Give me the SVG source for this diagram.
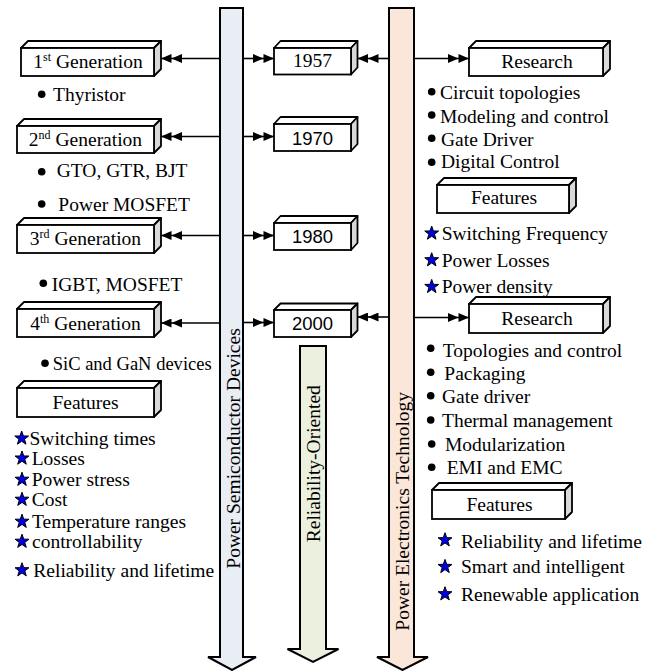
<svg xmlns="http://www.w3.org/2000/svg" width="659" height="671" viewBox="0 0 659 671">
<style>
.t{font-family:"Liberation Serif","Times New Roman",serif;font-size:19.5px;fill:#000}
.s{font-family:"Liberation Sans",Arial,sans-serif;font-size:18.5px;fill:#000}
.front{fill:#fff;stroke:#000;stroke-width:1.8}
.top{fill:#fff;stroke:#000;stroke-width:1.8;stroke-linejoin:round}
.side{fill:#d9d9d9;stroke:#000;stroke-width:1.8;stroke-linejoin:round}
.con{stroke:#000;stroke-width:1.6;fill:none;marker-end:url(#dbl)}
.shaft{stroke:#000;stroke-width:2;stroke-linejoin:miter}
.bul{fill:#000}
.star{fill:#0000e6;stroke:#000;stroke-width:1}
</style>
<defs>
<marker id="dbl" markerUnits="userSpaceOnUse" viewBox="0 0 21 9" markerWidth="21" markerHeight="9" refX="21" refY="4.5" orient="auto">
<path d="M0,0 L10.5,4.5 L0,9 Z M10.5,0 L21,4.5 L10.5,9 Z" fill="#000"/>
</marker>
<path id="star" class="star" d="M0,-7.3 L1.72,-2.37 L6.94,-2.26 L2.78,0.9 L4.29,5.9 L0,2.92 L-4.29,5.9 L-2.78,0.9 L-6.94,-2.26 L-1.72,-2.37 Z"/>
</defs>
<rect width="659" height="671" fill="#fff"/>

<g id="shaft-devices">
<path class="shaft" fill="#e9edf4" d="M220,8 H243 V657 H256 L232,670 L208,657 H220 Z"/>
<text class="t" transform="translate(240,448.5) rotate(-90)" text-anchor="middle">Power Semiconductor Devices</text>
</g>
<g id="shaft-reliability">
<path class="shaft" fill="#ebf1de" d="M300,346 H326 V649 H338.5 L313,662 L287.5,649 H300 Z"/>
<text class="t" transform="translate(320,463.7) rotate(-90)" text-anchor="middle">Reliability-Oriented</text>
</g>
<g id="shaft-technology">
<path class="shaft" fill="#fbe7da" d="M389,8 H414 V657 H428 L402.5,670 L377,657 H389 Z"/>
<text class="t" transform="translate(409,511.3) rotate(-90)" text-anchor="middle">Power Electronics Technology</text>
</g>

<g id="connectors">
<line class="con" x1="220" y1="58.5" x2="161" y2="58.5"/>
<line class="con" x1="243" y1="58.5" x2="274" y2="58.5"/>
<line class="con" x1="389" y1="58.5" x2="357.5" y2="58.5"/>
<line class="con" x1="414" y1="58.5" x2="469" y2="58.5"/>
<line class="con" x1="220" y1="136.5" x2="161" y2="136.5"/>
<line class="con" x1="243" y1="136.5" x2="274" y2="136.5"/>
<line class="con" x1="220" y1="235.5" x2="161" y2="235.5"/>
<line class="con" x1="243" y1="235.5" x2="274" y2="235.5"/>
<line class="con" x1="220" y1="323" x2="161" y2="323"/>
<line class="con" x1="243" y1="322.5" x2="274" y2="322.5"/>
<line class="con" x1="389" y1="317" x2="357.5" y2="317"/>
<line class="con" x1="414" y1="317.5" x2="469" y2="317.5"/>
</g>

<g id="gen1">
<polygon class="top" points="21,48 28,41 161,41 154,48"/>
<polygon class="side" points="154,48 161,41 161,69 154,76"/>
<rect class="front" x="21" y="48" width="133" height="28"/>
<text class="t" x="88" y="68" text-anchor="middle">1<tspan font-size="12" dy="-7">st</tspan><tspan dy="7"> Generation</tspan></text>
</g>
<g id="gen2">
<polygon class="top" points="17,126 24,119 161,119 154,126"/>
<polygon class="side" points="154,126 161,119 161,146 154,153"/>
<rect class="front" x="17" y="126" width="137" height="27"/>
<text class="t" x="85.5" y="146" text-anchor="middle">2<tspan font-size="12" dy="-7">nd</tspan><tspan dy="7"> Generation</tspan></text>
</g>
<g id="gen3">
<polygon class="top" points="17,225 24,218 161,218 154,225"/>
<polygon class="side" points="154,225 161,218 161,246 154,253"/>
<rect class="front" x="17" y="225" width="137" height="28"/>
<text class="t" x="85.5" y="245" text-anchor="middle">3<tspan font-size="12" dy="-7">rd</tspan><tspan dy="7"> Generation</tspan></text>
</g>
<g id="gen4">
<polygon class="top" points="17,309 24,302 161,302 154,309"/>
<polygon class="side" points="154,309 161,302 161,330 154,337"/>
<rect class="front" x="17" y="309" width="137" height="28"/>
<text class="t" x="85.5" y="330" text-anchor="middle">4<tspan font-size="12" dy="-7">th</tspan><tspan dy="7"> Generation</tspan></text>
</g>
<g id="features-left">
<polygon class="top" points="17,388 24,381 161,381 154,388"/>
<polygon class="side" points="154,388 161,381 161,410 154,417"/>
<rect class="front" x="17" y="388" width="137" height="29"/>
<text class="t" x="85.5" y="409" text-anchor="middle">Features</text>
</g>

<g id="y1957">
<polygon class="top" points="274,48 280.5,41 357.5,41 351,48"/>
<polygon class="side" points="351,48 357.5,41 357.5,67.5 351,74.5"/>
<rect class="front" x="274" y="48" width="77" height="26.5"/>
<text class="t" x="312.5" y="67" text-anchor="middle">1957</text>
</g>
<g id="y1970">
<polygon class="top" points="274,124 280.5,117 357.5,117 351,124"/>
<polygon class="side" points="351,124 357.5,117 357.5,144 351,151"/>
<rect class="front" x="274" y="124" width="77" height="27"/>
<text class="s" x="312.5" y="144.5" text-anchor="middle">1970</text>
</g>
<g id="y1980">
<polygon class="top" points="274,223 280.5,216 357.5,216 351,223"/>
<polygon class="side" points="351,223 357.5,216 357.5,243 351,250"/>
<rect class="front" x="274" y="223" width="77" height="27"/>
<text class="s" x="312.5" y="243" text-anchor="middle">1980</text>
</g>
<g id="y2000">
<polygon class="top" points="274,310 280.5,303.5 357.5,303.5 351,310"/>
<polygon class="side" points="351,310 357.5,303.5 357.5,330.5 351,337"/>
<rect class="front" x="274" y="310" width="77" height="27"/>
<text class="s" x="312.5" y="329.5" text-anchor="middle">2000</text>
</g>

<g id="research1">
<polygon class="top" points="469,48 476,41 610,41 603,48"/>
<polygon class="side" points="603,48 610,41 610,69 603,76"/>
<rect class="front" x="469" y="48" width="134" height="28"/>
<text class="t" x="537" y="68" text-anchor="middle">Research</text>
</g>
<g id="features-right1">
<polygon class="top" points="437,185 444,178 576,178 569,185"/>
<polygon class="side" points="569,185 576,178 576,206 569,213"/>
<rect class="front" x="437" y="185" width="132" height="28"/>
<text class="t" x="504" y="204" text-anchor="middle">Features</text>
</g>
<g id="research2">
<polygon class="top" points="469,304 476,297 610,297 603,304"/>
<polygon class="side" points="603,304 610,297 610,326 603,333"/>
<rect class="front" x="469" y="304" width="134" height="29"/>
<text class="t" x="537" y="325" text-anchor="middle">Research</text>
</g>
<g id="features-right2">
<polygon class="top" points="432,490 439,483 572,483 565,490"/>
<polygon class="side" points="565,490 572,483 572,512 565,519"/>
<rect class="front" x="432" y="490" width="133" height="29"/>
<text class="t" x="499.5" y="511" text-anchor="middle">Features</text>
</g>

<g id="list-gen">
<circle class="bul" cx="41.7" cy="94.3" r="3.8"/><text class="t" x="53" y="100.5">Thyristor</text>
<circle class="bul" cx="41.7" cy="171.7" r="3.8"/><text class="t" x="56.7" y="176.7">GTO, GTR, BJT</text>
<circle class="bul" cx="41.7" cy="204" r="3.8"/><text class="t" x="58.3" y="210.5">Power MOSFET</text>
<circle class="bul" cx="43.3" cy="283.3" r="3.8"/><text class="t" x="51.7" y="290.5">IGBT, MOSFET</text>
<circle class="bul" cx="45" cy="363.3" r="3.8"/><text class="t" x="52.7" y="370" textLength="159" lengthAdjust="spacingAndGlyphs">SiC and GaN devices</text>
</g>
<g id="list-features-left">
<use href="#star" x="21.7" y="438.3"/><text class="t" x="29.5" y="445">Switching times</text>
<use href="#star" x="22" y="458.3"/><text class="t" x="31.7" y="465">Losses</text>
<use href="#star" x="22" y="479.5"/><text class="t" x="31.7" y="485.7">Power stress</text>
<use href="#star" x="22" y="499.5"/><text class="t" x="31.7" y="505.7">Cost</text>
<use href="#star" x="22" y="521.5"/><text class="t" x="32" y="528.3">Temperature ranges</text>
<use href="#star" x="22" y="541.5"/><text class="t" x="32" y="547.5">controllability</text>
<use href="#star" x="22" y="570"/><text class="t" x="33.3" y="576.7">Reliability and lifetime</text>
</g>
<g id="list-research1">
<circle class="bul" cx="431.7" cy="91.7" r="3.8"/><text class="t" x="440" y="99">Circuit topologies</text>
<circle class="bul" cx="431.7" cy="115" r="3.8"/><text class="t" x="440" y="122.7">Modeling and control</text>
<circle class="bul" cx="431.7" cy="138.3" r="3.8"/><text class="t" x="441" y="145.7">Gate Driver</text>
<circle class="bul" cx="431.7" cy="162.3" r="3.8"/><text class="t" x="441" y="168.3">Digital Control</text>
</g>
<g id="list-features-right1">
<use href="#star" x="431.7" y="233.3"/><text class="t" x="441.7" y="240">Switching Frequency</text>
<use href="#star" x="431.7" y="260"/><text class="t" x="441.7" y="266.7">Power Losses</text>
<use href="#star" x="431.7" y="286.7"/><text class="t" x="441.7" y="293.3">Power density</text>
</g>
<g id="list-research2">
<circle class="bul" cx="430.7" cy="348.3" r="3.8"/><text class="t" x="442.7" y="356.7">Topologies and control</text>
<circle class="bul" cx="430.7" cy="372.3" r="3.8"/><text class="t" x="444.3" y="380">Packaging</text>
<circle class="bul" cx="430.7" cy="395.7" r="3.8"/><text class="t" x="442" y="402.7">Gate driver</text>
<circle class="bul" cx="430.7" cy="420" r="3.8"/><text class="t" x="442" y="426.7">Thermal management</text>
<circle class="bul" cx="431.7" cy="444" r="3.8"/><text class="t" x="445" y="450.5">Modularization</text>
<circle class="bul" cx="431.7" cy="467.3" r="3.8"/><text class="t" x="446.7" y="474.3">EMI and EMC</text>
</g>
<g id="list-features-right2">
<use href="#star" x="445" y="540"/><text class="t" x="461" y="548.3">Reliability and lifetime</text>
<use href="#star" x="445" y="566.7"/><text class="t" x="461" y="573.3">Smart and intelligent</text>
<use href="#star" x="445" y="594"/><text class="t" x="461" y="601">Renewable application</text>
</g>
</svg>
